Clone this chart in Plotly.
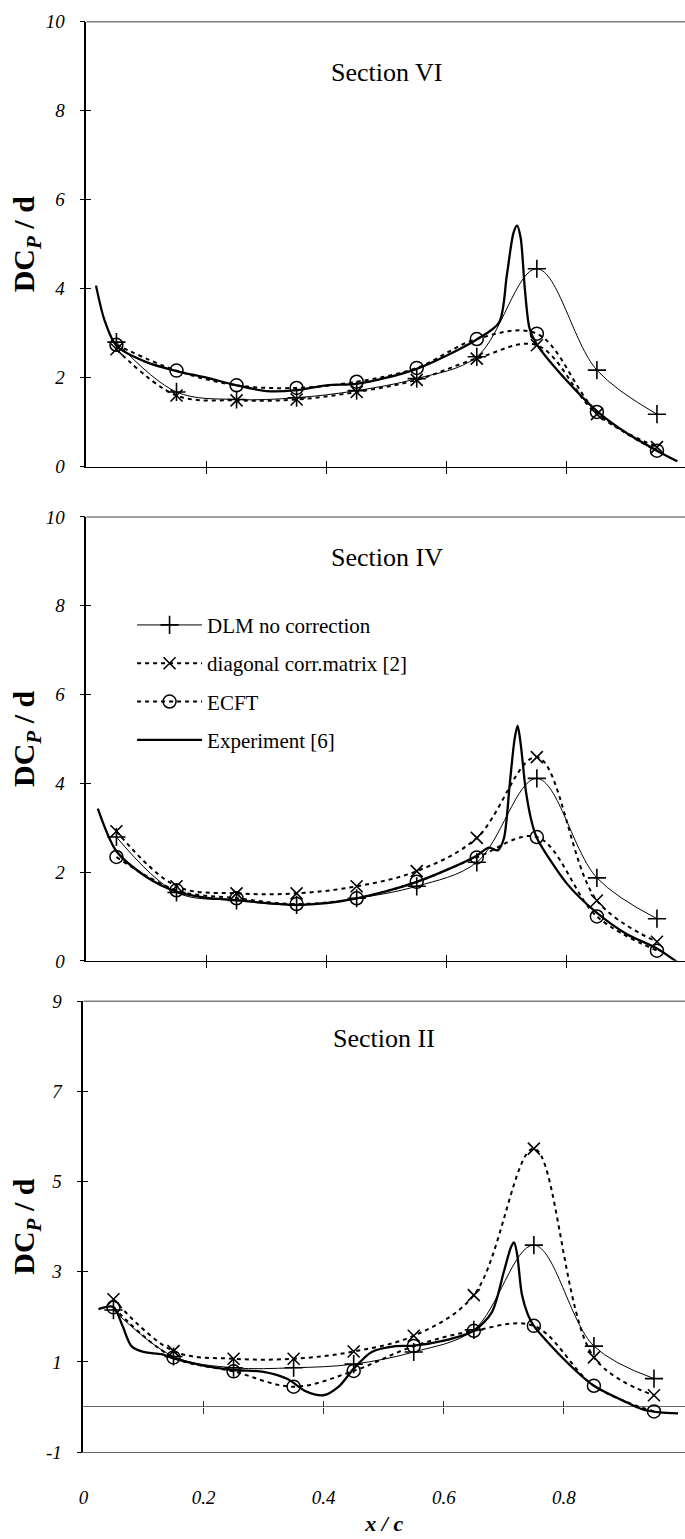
import plotly.graph_objects as go

# ---------------- data ----------------
x_pts = [0.05, 0.15, 0.25, 0.35, 0.45, 0.55, 0.65, 0.75, 0.85, 0.95]

# Section VI
dlm_vi = [2.80, 1.68, 1.51, 1.55, 1.71, 1.98, 2.47, 4.45, 2.17, 1.18]
diag_vi = [2.64, 1.60, 1.49, 1.51, 1.68, 1.95, 2.43, 2.73, 1.18, 0.44]
ecft_vi = [2.74, 2.16, 1.83, 1.77, 1.91, 2.22, 2.87, 2.99, 1.23, 0.36]
exp_vi_x = [0.016, 0.03, 0.05, 0.10, 0.15, 0.20, 0.25, 0.30, 0.35, 0.40, 0.45, 0.50,
            0.55, 0.60, 0.65, 0.687, 0.700, 0.711, 0.717, 0.723, 0.730, 0.738, 0.75,
            0.80, 0.85, 0.90, 0.95, 0.984]
exp_vi_y = [4.07, 3.30, 2.72, 2.35, 2.15, 2.00, 1.83, 1.70, 1.72, 1.83, 1.86, 2.00,
            2.20, 2.50, 2.86, 3.24, 4.30, 5.25, 5.42, 5.15, 4.00, 3.10, 2.75,
            1.93, 1.25, 0.75, 0.36, 0.12]

# Section IV
dlm_iv = [2.79, 1.54, 1.36, 1.26, 1.41, 1.68, 2.22, 4.11, 1.87, 0.95]
diag_iv = [2.92, 1.68, 1.52, 1.52, 1.68, 2.02, 2.77, 4.59, 1.36, 0.43]
ecft_iv = [2.34, 1.59, 1.41, 1.28, 1.41, 1.78, 2.33, 2.79, 1.00, 0.23]
exp_iv_x = [0.019, 0.05, 0.10, 0.15, 0.20, 0.25, 0.30, 0.35, 0.40, 0.45, 0.50, 0.55,
            0.60, 0.65, 0.670, 0.685, 0.695, 0.705, 0.713, 0.718, 0.723, 0.732, 0.742,
            0.75, 0.80, 0.85, 0.90, 0.95, 0.984]
exp_iv_y = [3.43, 2.47, 1.89, 1.56, 1.42, 1.37, 1.30, 1.26, 1.30, 1.41, 1.57, 1.78,
            2.05, 2.37, 2.55, 2.49, 2.75, 4.00, 5.00, 5.30, 4.90, 3.80, 3.10,
            2.77, 1.74, 1.08, 0.60, 0.28, -0.03]

# Section II
dlm_ii = [2.15, 1.12, 0.87, 0.87, 0.95, 1.22, 1.71, 3.59, 1.35, 0.63]
diag_ii = [2.39, 1.24, 1.07, 1.07, 1.23, 1.58, 2.48, 5.73, 1.10, 0.26]
ecft_ii = [2.21, 1.10, 0.79, 0.45, 0.80, 1.35, 1.69, 1.80, 0.47, -0.10]
exp_ii_x = [0.025, 0.05, 0.065, 0.08, 0.10, 0.13, 0.15, 0.20, 0.25, 0.30, 0.34, 0.37,
            0.40, 0.425, 0.45, 0.48, 0.52, 0.55, 0.60, 0.65, 0.68, 0.70, 0.712, 0.717,
            0.722, 0.730, 0.740, 0.75, 0.80, 0.85, 0.90, 0.93, 0.96, 0.99]
exp_ii_y = [2.17, 2.22, 1.80, 1.35, 1.22, 1.17, 1.08, 0.92, 0.82, 0.78, 0.62, 0.35,
            0.26, 0.45, 0.85, 1.22, 1.35, 1.36, 1.47, 1.69, 2.10, 3.00, 3.55, 3.65,
            3.40, 2.50, 2.05, 1.80, 1.06, 0.47, 0.13, -0.05, -0.12, -0.14]

section_titles = ["Section VI", "Section IV", "Section II"]
series_names = ["DLM no correction", "diagonal corr.matrix [2]", "ECFT", "Experiment [6]"]
x_tick_vals = [0, 0.2, 0.4, 0.6, 0.8, 1]
x_tick_text = ["0", "0.2", "0.4", "0.6", "0.8", "1"]
y_ticks_top = [0, 2, 4, 6, 8, 10]
y_ticks_bot = [-1, 1, 3, 5, 7, 9]

# ---------------- layout geometry ----------------
W, H = 685, 1539
PXU = 605.0  # pixels per unit x
panels = [
    dict(left=82, top=12, bottom=463, yr=[0, 10], yt=y_ticks_top, ty=8.86),
    dict(left=82, top=514, bottom=964, yr=[0, 10], yt=y_ticks_top, ty=9.08),
    dict(left=79, top=1005, bottom=1462, yr=[-1, 9], yt=y_ticks_bot, ty=8.17),
]
FONT = "Liberation Serif"

data_sets = [
    (dlm_vi, diag_vi, ecft_vi, exp_vi_x, exp_vi_y),
    (dlm_iv, diag_iv, ecft_iv, exp_iv_x, exp_iv_y),
    (dlm_ii, diag_ii, ecft_ii, exp_ii_x, exp_ii_y),
]

fig = go.Figure()
layout = dict(
    width=W, height=H, autosize=False,
    margin=dict(l=0, r=0, t=0, b=0),
    paper_bgcolor="white", plot_bgcolor="white",
    font=dict(family=FONT, color="black", size=18),
    showlegend=True,
    legend=dict(x=128 / W, y=1 - 603 / H, xanchor="left", yanchor="top",
                font=dict(family=FONT, size=21, color="black"),
                bgcolor="rgba(0,0,0,0)", itemwidth=65, tracegroupgap=8,
                traceorder="grouped"),
    shapes=[], annotations=[],
)

tick_len = 5
for i, p in enumerate(panels):
    k = i + 1
    xs = "" if k == 1 else str(k)
    xname, yname = "x" + xs, "y" + xs
    xdom = [p["left"] / W, 1.0]
    ydom = [1 - p["bottom"] / H, 1 - p["top"] / H]
    xr = [0, (W - p["left"]) / PXU]
    last = (k == 3)

    dlm, diag, ecft, ex, ey = data_sets[i]
    show = (k == 2)
    fig.add_trace(go.Scatter(
        x=x_pts, y=dlm, name=series_names[0], legendgroup="a", showlegend=show,
        mode="lines+markers", xaxis=xname, yaxis=yname,
        line=dict(color="black", width=1, shape="spline"),
        marker=dict(symbol="cross-thin-open", size=13, line=dict(color="black", width=1.6))))
    fig.add_trace(go.Scatter(
        x=x_pts, y=diag, name=series_names[1], legendgroup="b", showlegend=show,
        mode="lines+markers", xaxis=xname, yaxis=yname,
        line=dict(color="black", width=2, dash="4px,4px", shape="spline"),
        marker=dict(symbol="x-thin-open", size=12, line=dict(color="black", width=1.6))))
    fig.add_trace(go.Scatter(
        x=x_pts, y=ecft, name=series_names[2], legendgroup="c", showlegend=show,
        mode="lines+markers", xaxis=xname, yaxis=yname,
        line=dict(color="black", width=2, dash="4px,4px", shape="spline"),
        marker=dict(symbol="circle-open", size=13, color="black", line=dict(color="black", width=1.5))))
    fig.add_trace(go.Scatter(
        x=ex, y=ey, name=series_names[3], legendgroup="d", showlegend=show,
        mode="lines", xaxis=xname, yaxis=yname,
        line=dict(color="black", width=2.3, shape="spline", smoothing=0.8)))

    # main axes
    xa = dict(domain=xdom, range=xr, anchor=yname, showgrid=False, zeroline=False,
              showline=True, linewidth=1.4)
    if last:
        xa.update(linecolor="#666666", ticks="", tickvals=x_tick_vals, ticktext=x_tick_text,
                  showticklabels=True,
                  tickfont=dict(family=FONT, size=19, style="italic"),
                  ticklabelstandoff=28,
                  title=dict(text="x / c", standoff=8,
                             font=dict(family=FONT, size=22, style="italic", weight="bold")))
    else:
        xa.update(linecolor="black", ticks="outside", ticklen=6, tickcolor="black",
                  tickwidth=1, tickvals=[0.2, 0.4, 0.6, 0.8], showticklabels=False)
    ya = dict(domain=ydom, range=p["yr"], anchor=xname, showgrid=False,
              showline=True, linecolor="black", linewidth=1.6,
              ticks="outside", ticklen=tick_len, tickcolor="black", tickwidth=1,
              tickvals=p["yt"], ticktext=[str(v) for v in p["yt"]],
              tickfont=dict(family=FONT, size=19, style="italic"),
              ticklabelstandoff=11,
              title=dict(text="<b>DC<sub><i>P</i></sub> / d</b>", standoff=2,
                         font=dict(family=FONT, size=30)),
              zeroline=last, zerolinecolor="#666666", zerolinewidth=1.4)
    layout["xaxis" + xs] = xa
    layout["yaxis" + xs] = ya

    # overlay axes for ticks crossing the axis lines
    yo = str(k + 3)
    layout["yaxis" + yo] = dict(overlaying=yname, anchor=xname, side="left", range=p["yr"],
                                showgrid=False, zeroline=False, showline=False,
                                ticks="inside", ticklen=tick_len, tickcolor="black", tickwidth=1,
                                tickvals=p["yt"], showticklabels=False)
    fig.add_trace(go.Scatter(x=[None], y=[None], xaxis=xname, yaxis="y" + yo,
                             showlegend=False, hoverinfo="skip"))
    if not last:
        xo = str(k + 3)
        layout["xaxis" + xo] = dict(overlaying=xname, anchor=yname, range=xr,
                                    showgrid=False, zeroline=False, showline=False,
                                    ticks="inside", ticklen=6, tickcolor="black", tickwidth=1,
                                    tickvals=[0.2, 0.4, 0.6, 0.8], showticklabels=False)
        fig.add_trace(go.Scatter(x=[None], y=[None], xaxis="x" + xo, yaxis=yname,
                                 showlegend=False, hoverinfo="skip"))
    else:
        zero_pos = ydom[0] + (0 - p["yr"][0]) / (p["yr"][1] - p["yr"][0]) * (ydom[1] - ydom[0])
        for xo, tk in (("6", "outside"), ("7", "inside")):
            layout["xaxis" + xo] = dict(overlaying=xname, anchor="free", position=zero_pos,
                                        range=xr, showgrid=False, zeroline=False, showline=False,
                                        ticks=tk, ticklen=6, tickcolor="#333333", tickwidth=1,
                                        tickvals=[0.2, 0.4, 0.6, 0.8], showticklabels=False)
            fig.add_trace(go.Scatter(x=[None], y=[None], xaxis="x" + xo, yaxis=yname,
                                     showlegend=False, hoverinfo="skip"))

    # top border of plot area
    layout["shapes"].append(dict(type="line", xref=xname + " domain", yref=yname + " domain",
                                 x0=0, x1=1, y0=1, y1=1,
                                 line=dict(color="#808080", width=1.5)))
    # section title
    layout["annotations"].append(dict(text=section_titles[i], xref=xname, yref=yname,
                                      x=0.5, y=p["ty"], showarrow=False,
                                      font=dict(family=FONT, size=26, color="black")))

fig.update_layout(**layout)
fig.write_html("out.html")
